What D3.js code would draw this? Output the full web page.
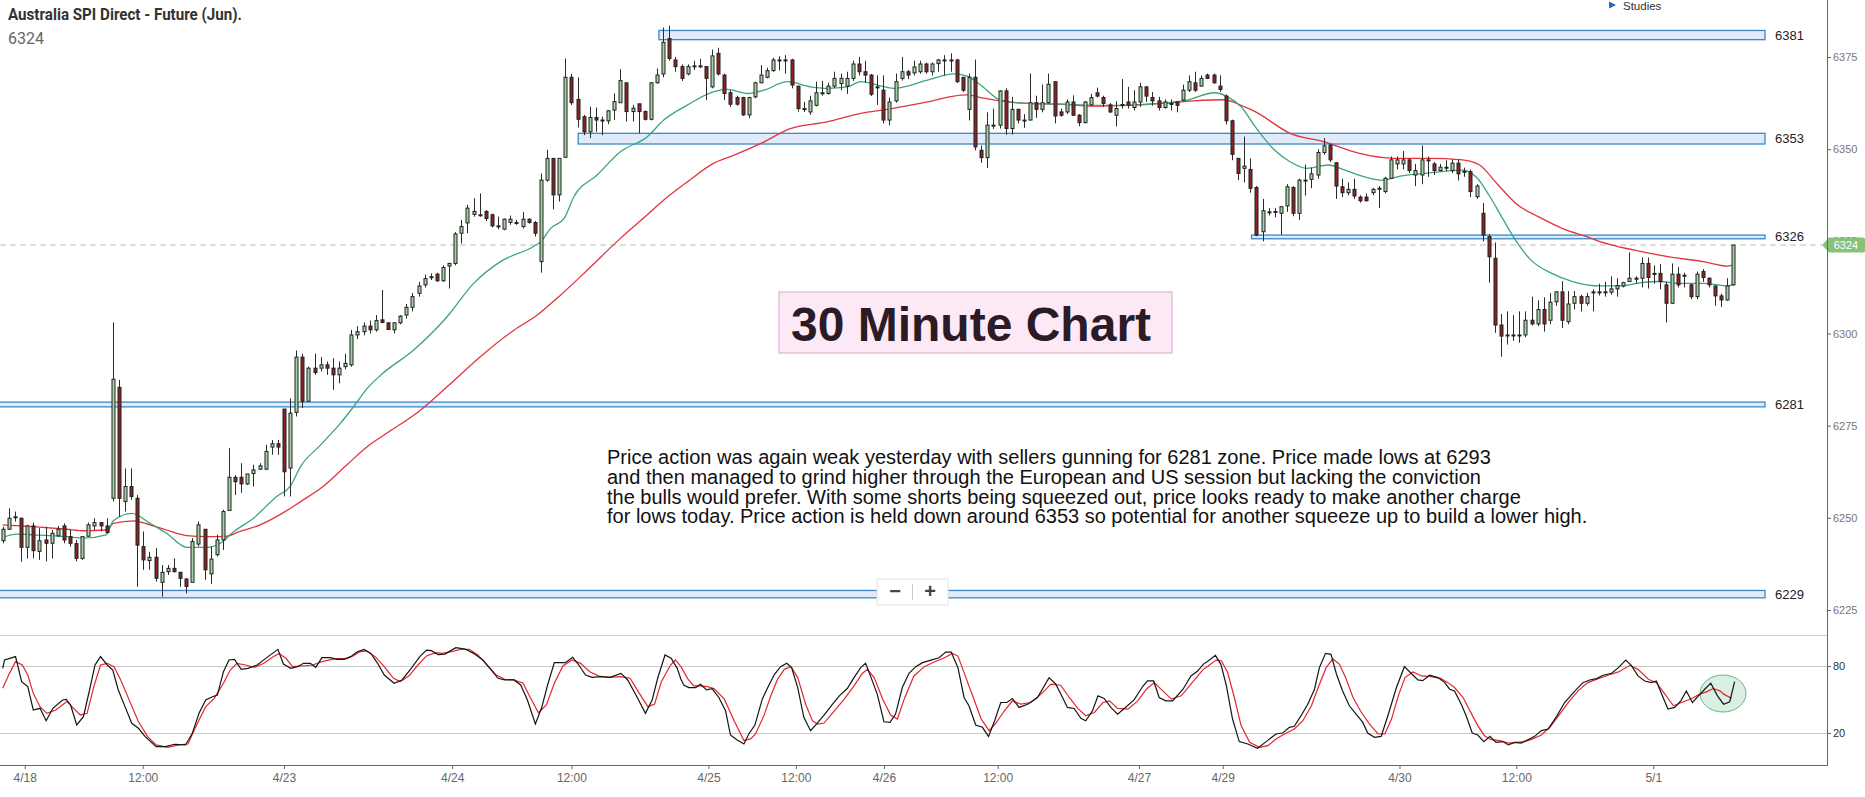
<!DOCTYPE html>
<html>
<head>
<meta charset="utf-8">
<script src="https://cdn.jsdelivr.net/npm/d3@7"></script>
<style>
  body { margin: 0; background: #fff; }
  svg { display: block; }
</style>
</head>
<body>
<script>
// ---- data ----
const title = "Australia SPI Direct - Future (Jun).";
const lastPrice = 6324;

const opens = [6243.8,6246.9,6250.3,6249.9,6242.0,6247.8,6240.9,6244,6243.1,6245.1,6247.8,6244.9,6243,6239,6245,6247.8,6248.7,6247.8,6255.3,6285.4,
6254.4,6258.5,6255.3,6242.2,6238.4,6239.3,6232.5,6235.4,6236.3,6235.2,6233.4,6232.5,6242.9,6246.9,6234.8,6240,6244,6252,6261,6261,
6259.2,6262,6263.2,6263.2,6269.2,6270.1,6279.5,6263.5,6278.6,6293.6,6281.6,6290.6,6290.6,6291.5,6290.6,6288.8,6291,6291.5,6299.6,6300.5,
6302,6301,6303.7,6302.9,6301,6302.9,6305,6307.1,6310.9,6313.2,6315.4,6316.1,6314.3,6318.3,6319,6327.2,6330,6332.3,6332.2,6333.1,
6332.2,6329.2,6328.3,6330.1,6330.1,6329,6331,6330.1,6319.5,6341.6,6347.5,6337.6,6347.8,6369.5,6363.5,6358.8,6354.7,6358.6,6357.9,6357.7,
6360.6,6362.6,6368,6360.2,6362.3,6360.2,6358.1,6368,6370.4,6380,6374.2,6372.4,6370.4,6372.6,6372.6,6372.4,6366.9,6376,6370.1,6365.3,
6364,6364,6359.3,6364.2,6368,6369.5,6371.3,6374.2,6374.2,6374.2,6367.1,6361,6360.1,6361.9,6365.3,6365.1,6367.1,6367.8,6367.1,6369.2,
6373.1,6371,6370.1,6366.9,6366,6357.9,6363.1,6369.2,6371,6370.7,6371,6373.1,6371,6373.2,6374.2,6374.2,6374.2,6369.5,6360.8,6369.5,
6349.7,6347.7,6356.5,6356.5,6365.8,6355.6,6360.8,6357.9,6357.9,6362.6,6360.8,6362.6,6368.3,6360.1,6360.1,6362.8,6359.2,6357.2,6362,6365.3,
6364,6362,6359.2,6362,6362.8,6361.3,6362.8,6366.9,6364,6363.1,6361.3,6362.4,6362.8,6363.3,6366,6368,6367.1,6370.1,6370.1,6367.1,
6364.4,6357.7,6347.5,6344.8,6344.5,6339.6,6327.6,6333,6333,6332.6,6334.6,6339.6,6332.6,6341.6,6341.8,6343,6349.1,6351.1,6346.3,6339.8,
6338.2,6339.1,6337,6337,6338.2,6339.4,6338.5,6342.1,6346,6346,6347.1,6343,6343,6347.1,6346,6344.2,6345.1,6344.2,6346.2,6344,
6343.9,6337.1,6332.6,6326.3,6320.4,6302.3,6299.6,6299.6,6299.6,6299.6,6303.6,6302.6,6306.5,6303.6,6308.6,6311.3,6303.2,6308.2,6310,6308.2,
6311.3,6311.3,6311.3,6311.2,6312.1,6312.9,6314.1,6315,6315,6319,6316.3,6316.3,6313.2,6308.2,6316.1,6315.8,6313.2,6310,6316.8,6315,
6312.9,6310.2,6309.1,6313.2];

const highs = [6247.6,6252.6,6251.7,6250,6248.1,6248.7,6247.2,6247.6,6246.7,6247.8,6248.5,6246.7,6244,6245.1,6248.7,6249.9,6248.7,6249.9,6303,6287.4,
6263.4,6263.4,6256.2,6246.3,6240.8,6241.8,6237.2,6237.2,6239,6235.4,6233.6,6244.5,6249,6246.9,6242.2,6245.4,6252.2,6268.9,6261.6,6264.8,
6261.9,6264.4,6264.8,6269.8,6271.1,6271.1,6279.5,6282.4,6295.4,6294.5,6291,6294.5,6293.6,6292.4,6293.3,6292.4,6294.5,6301,6302,6303,
6303.5,6305,6311.8,6303,6303,6305,6308,6311,6314,6316,6316.3,6316.5,6318.5,6319.2,6327.5,6330.8,6334.9,6336.7,6338,6333.5,
6332.5,6331.7,6331.2,6332,6330.8,6333,6331.2,6330.5,6343.4,6349.8,6347.5,6347.6,6374.6,6370.4,6369.5,6359.3,6361.5,6361.3,6358.8,6360.6,
6365.1,6371.7,6368,6362,6362.3,6360.5,6368.2,6371.9,6383,6383.5,6375,6373,6373,6374,6374.5,6372.5,6377,6377.5,6370.5,6366,
6364.5,6364.2,6364.2,6368.3,6372.8,6372.1,6374.8,6375.2,6375.5,6374.5,6367.2,6362.8,6364.5,6368.3,6368.5,6368,6371,6370.5,6371,6374,
6375,6374,6370.4,6370,6370,6364,6370.5,6375,6371.5,6374,6374,6373.5,6373.5,6374.5,6375.5,6376,6374.5,6369.6,6370.5,6374.3,
6351,6360,6361,6366,6366.5,6364.2,6361,6359.5,6370.5,6364.5,6367.5,6370.5,6368.4,6361,6363.5,6364.6,6359.5,6363,6365,6366.7,
6364.5,6362.5,6363,6369,6366.9,6366,6368,6367,6365.5,6364.2,6363.5,6363.5,6363,6367.5,6370,6371,6370,6370.5,6370.5,6370,
6364.8,6358,6347.6,6353.4,6347.5,6340,6336.5,6334,6334,6334.6,6340.5,6340,6342,6345.8,6345,6350,6353,6351.5,6346.5,6342,
6341,6342,6337.5,6338,6339.5,6340,6342.5,6348,6348,6349.5,6347.5,6346,6351,6348,6346.5,6346,6347,6347.2,6347.2,6345,
6344.5,6340.5,6335.4,6327,6324.7,6305.3,6306,6305,6306,6306,6310,6309,6309.8,6311,6311.5,6314.2,6311.5,6311.5,6310.5,6311,
6312,6313.5,6314,6315.5,6315,6314,6322,6315.5,6320.6,6320.6,6318.5,6318.8,6314,6319,6318,6316.5,6313.5,6316.8,6317.5,6315.2,
6313,6310.8,6315,6324];

const lows = [6243.1,6246.7,6249,6238.1,6239,6239,6238.6,6238.2,6239,6244.9,6243.1,6242.2,6238.2,6238.6,6244.9,6246.7,6246.3,6245.8,6254.4,6250.3,
6251.7,6254.9,6231.3,6235.9,6235.9,6232.7,6228.6,6234.5,6235.2,6231.3,6229.5,6232.5,6242.2,6233.2,6232.1,6239.5,6241.3,6252,6256.2,6256.8,
6258.9,6258.5,6263,6263,6267.1,6267.1,6255.8,6255.8,6277.5,6279.8,6281.4,6288.8,6289.7,6288.8,6284.7,6286.5,6290.3,6291,6298.5,6299.5,
6300,6300.5,6302.8,6300.9,6300,6302.5,6304,6306,6310,6312.5,6314.5,6314,6314,6312.2,6318.5,6324.4,6327.2,6331.7,6331.7,6330.5,
6328.8,6328.3,6328,6329.5,6329.5,6328.5,6329.8,6326.3,6316.5,6341.2,6333.7,6335.8,6347.8,6362,6355.9,6353.8,6353,6354.7,6353.8,6356.8,
6357.9,6362.6,6357.5,6357.5,6354.3,6357.8,6357.8,6367.8,6369.5,6374,6371,6368.5,6370,6371.5,6372,6363.3,6366.5,6370,6363.3,6361.5,
6361.8,6359,6358.4,6363.8,6367.9,6369.2,6371,6371.4,6370.5,6366.5,6360.2,6360.1,6359.3,6361.6,6364.5,6364.8,6366.6,6366,6365,6368.5,
6370,6368,6364.4,6362,6357,6356.5,6362.6,6368.6,6369,6370,6370.5,6370.5,6370,6371,6370,6371,6368,6365.5,6357.8,6349.7,
6346.3,6344.9,6355.5,6355.6,6353.9,6354,6357,6355.8,6357.8,6358.5,6360,6362.4,6357,6358.8,6359.5,6359,6356.2,6357,6361.8,6364,
6361.5,6359.8,6356.2,6361,6361,6360.5,6361.5,6362.8,6361.8,6360.5,6361,6360.5,6360,6363,6365.5,6365.5,6367,6369,6367.8,6365.5,
6356.7,6347,6341.6,6341,6338.2,6326.4,6325,6332,6331.5,6326.8,6333,6331.8,6330.8,6337.4,6339.4,6342,6348.5,6346.5,6336.5,6337,
6337.5,6336.5,6335.5,6335.8,6337.5,6334,6338,6342,6344.5,6344.5,6343.5,6340,6340.5,6342.5,6343,6344,6344,6343.5,6341.5,6342.5,
6337,6336.5,6325,6313.8,6300.2,6293.7,6297,6298,6297.5,6299,6302.2,6302,6300.5,6302.5,6307.5,6301.5,6302.5,6306.5,6306,6307.5,
6306,6310.3,6310,6310.5,6310,6312.5,6314,6313.5,6312.5,6312.2,6313.5,6312,6303,6308,6312.5,6312.5,6309.3,6309.3,6314,6312.5,
6307.5,6307.2,6308.9,6313];

const closes = [6246.9,6249.9,6250.3,6242.0,6247.8,6241.1,6243.8,6243.1,6245.8,6246.9,6244,6243.1,6239,6244.9,6248.1,6248.7,6247.8,6246,6287.6,6255.3,
6258.5,6255.8,6242.6,6238.6,6239.3,6233.6,6235.2,6236.3,6235.4,6233.6,6231.4,6243.6,6248.1,6235.9,6238.8,6244,6251.7,6261,6259.8,6259.2,
6261.9,6263,6264.1,6268,6270.1,6269.2,6262.5,6278.4,6293.6,6281.6,6290.6,6289.4,6291.5,6290.6,6288.8,6290.6,6291.9,6299.6,6300.5,6302,
6301,6303.5,6303,6301.1,6302.9,6304.7,6307.1,6310,6312.9,6314.9,6315.4,6314.3,6317.9,6319,6327,6329,6334,6333.1,6332.2,6331.2,
6329.2,6329.2,6331,6331,6330.1,6331,6330.1,6327.2,6341.6,6347.5,6337.6,6347.5,6369.5,6362.6,6358.1,6354.7,6358.6,6357.9,6357.9,6360.4,
6362.9,6368.6,6360.2,6361.1,6360.2,6358.1,6368,6370.1,6379,6374.6,6372.4,6369.2,6372.4,6372.6,6372.6,6369.2,6375.3,6370.4,6365.1,6362.2,
6362.2,6359.3,6364,6368,6370.1,6371.3,6374.2,6374.2,6374,6367.4,6361,6361,6363.1,6365.3,6365.3,6367.1,6369.2,6369.2,6369.2,6373.1,
6371,6370.1,6364.9,6366.9,6357.9,6362.8,6368.3,6371,6370.1,6372.3,6373.1,6371,6373.1,6374.2,6374.2,6374.2,6368.3,6366,6369.5,6350.6,
6347.7,6356.5,6356.5,6365.8,6355.6,6360.8,6357.9,6357.9,6362.6,6360.8,6362.6,6367.6,6359,6359.2,6362.8,6359.2,6357.2,6362.8,6364,6364.4,
6362.4,6360.1,6361,6362.1,6361.9,6362.8,6366.9,6364.4,6363.1,6361.3,6362.8,6362.4,6361.9,6366,6368.3,6366,6369.2,6369.2,6368,6366.2,
6357.7,6348.6,6343.4,6345.4,6339.4,6326.7,6333.3,6333,6333.1,6334.4,6339.8,6332.6,6341.6,6341.6,6343.3,6349.1,6350.9,6347.1,6340,6338.2,
6339.1,6337.3,6336,6336,6339.1,6339.4,6342.1,6347.1,6347.1,6347.1,6344.2,6344.2,6347.1,6347.1,6344.2,6345.1,6345.1,6346.2,6343.3,6344,
6338.5,6340,6326.7,6320.8,6302.3,6299.3,6299.6,6299.6,6299.6,6303.6,6302.6,6306.5,6302.6,6308.5,6311.3,6303.6,6308,6310,6308.2,6310,
6311.3,6311.3,6311.3,6312.1,6313,6313.8,6315,6315,6319,6315.2,6316.3,6314.1,6308.2,6316.1,6313.2,6315.8,6310,6316.1,6315.2,6313.2,
6310.2,6309.1,6312.9,6324];

// moving averages, [bar, price]
const maFast = [[0,6244.7],[2.3,6245.6],[5,6245.4],[10.5,6244.9],[13.2,6244.5],[16.9,6245.4],[18.1,6249.2],[21.1,6251.2],[24.1,6248.5],[26.8,6245.8],
[30.1,6242],[33.4,6242],[35.6,6243.1],[37.8,6246.3],[41,6249.9],[44.8,6255.8],[47,6258.5],[48.7,6263.9],[52,6269.8],[55.2,6275.6],[57.4,6280.2],
[59.6,6285.1],[61.8,6288.7],[67.2,6295.5],[72.7,6304.6],[77,6313.6],[81.4,6319.5],[86.8,6323.6],[88,6324.9],[89.6,6328.5],[91.8,6331.2],
[93.4,6337.1],[97.2,6343],[101,6349.3],[105.4,6353.4],[108.1,6357.9],[112,6362],[116.3,6365.6],[118.5,6366.2],[121.8,6365.1],[124.5,6366],
[128.3,6368.3],[132.1,6366.9],[134.8,6366.5],[138.1,6366.9],[140.3,6368.3],[143,6367.4],[145.7,6366.5],[151.2,6368.7],[155.5,6370.4],
[157.7,6369.8],[159.9,6367.4],[163.2,6363.3],[167.5,6362.4],[173,6362.2],[178.5,6361.9],[183.9,6361.9],[189.4,6362.4],[193.7,6363.3],
[198.1,6365.3],[200.3,6364.2],[202.5,6361.5],[204.8,6356.1],[207.7,6350.2],[210.5,6346.6],[213.3,6344.8],[216.7,6345.7],[219.5,6344.3],
[222.9,6342.4],[225.7,6341.6],[228.5,6342.7],[233,6343.5],[238.7,6344.3],[240.9,6342.5],[243.2,6337.1],[245.4,6330.8],[247.7,6324.5],
[249.9,6319.9],[253.3,6316.3],[256.7,6314.1],[261.2,6312.9],[264.6,6312.9],[268,6313.8],[270.8,6314.1],[274.2,6313.6],[278.1,6313.6],
[282.1,6312.9],[283.2,6313.6]];

const maSlow = [[0,6248.1],[5,6247.6],[10.5,6246.9],[13.2,6246.5],[16.9,6246.7],[18.1,6248.5],[21.4,6249.2],[24.1,6248.1],[26.8,6246.7],
[30.1,6245.2],[33.4,6244.9],[36.1,6244.9],[38.8,6246.3],[42.1,6248.1],[45.9,6251.4],[48.7,6254.4],[52,6258],[56.3,6264.4],[59.6,6269.3],
[62.3,6272.4],[68.3,6279.2],[72.7,6285.6],[78.1,6293.7],[83.6,6300.9],[87.4,6305],[91.2,6310.4],[95.6,6317.2],[101,6325.8],[105.4,6332.2],
[108.1,6336.2],[112,6341.2],[116.3,6346.2],[119.6,6348.4],[123.9,6351.5],[128.8,6355.6],[134.8,6357.4],[140.3,6359.7],[144.6,6360.8],
[151.2,6362.8],[155.5,6364.4],[157.7,6364.7],[159.9,6364],[163.2,6363.1],[167.5,6362.4],[173,6362.2],[178.5,6361.7],[183.9,6361.9],
[189.4,6362.4],[194.8,6363.1],[199.7,6363.4],[202.5,6361.9],[204.8,6360.2],[210.5,6354.3],[216.1,6352],[221.7,6348.9],[227.4,6347.5],
[233,6347.5],[238.7,6347.1],[241.5,6345.7],[244.3,6340.7],[247.7,6334.9],[251.1,6331.7],[255.6,6328.1],[259,6326.3],[261.2,6324.9],
[266.8,6322.6],[272.5,6320.8],[278.1,6319.5],[282.1,6318.3],[283.2,6318.6]];

// stochastic %K and %D, [bar, value]
const stochK = [[0,77.9],[0.3,85.4],[2.1,88.4],[3.1,66],[4.1,61.5],[5,40.6],[6.1,42.1],[7.1,31],[8.2,42.1],[9.8,49.6],[10.4,50.1],[11.1,45.1],
[12.1,27.2],[13.2,34.6],[14.2,58.5],[15.1,80.9],[16,88.4],[17.1,80.9],[18,76.4],[18.9,58.5],[20,43.6],[21.1,28.7],[22.2,24.2],[23.3,16.7],
[25.1,7.8],[26.6,7.8],[28.1,9.9],[29.9,9.3],[31,19.7],[32.1,37.6],[33.2,49.6],[34.3,52.5],[35.1,54],[36.1,74.9],[37,85.4],[37.9,86],[39,77],
[40.1,77.9],[41.6,80.9],[43.4,88.4],[45,94.9],[45.9,81.8],[47.1,77.9],[48.2,79.4],[49.2,82.4],[50.3,82.4],[51.2,78.8],[52.2,87.5],[53.6,87.5],
[54.7,86],[55.8,86],[56.9,88.4],[58,92.8],[59.1,94.9],[60.2,91.3],[61.3,82.4],[62.4,71.9],[64,64.5],[65.3,67.5],[66.8,77.9],[68.2,88.4],
[69.3,94.3],[70.1,93.7],[71.2,90.1],[72.3,90.7],[74.1,96.4],[75.6,95.2],[77,91.3],[78.5,85.4],[79.9,76.4],[81,69],[82.1,67.5],[83.6,67.5],
[84.7,63],[85.8,49.6],[87.1,28.1],[88.1,42.1],[89.1,63],[90.2,83],[92,83],[93.2,87.8],[94.2,80.9],[95.3,71.9],[96.4,69.9],[97.8,70.4],
[99.3,69.9],[101.1,73.4],[102.2,67.5],[103.7,52.5],[105.1,37.6],[106.2,49.6],[107.1,69],[108.3,89.9],[109.3,86.9],[110.3,77.9],[110.9,68.1],
[111.4,62.8],[112.2,60.7],[113.3,60.7],[114.1,63.7],[115.1,58.6],[116,59.8],[117.1,51.8],[118.2,39.9],[119,18.2],[120.1,13.8],[121.2,10.2],
[122,19.1],[123,27.1],[124.2,50.3],[125.1,60.7],[126.2,72.6],[127.2,79.4],[128.2,82.4],[129,78.5],[130,60.7],[131,34],[132.1,22.1],
[133.2,28.9],[134.3,36],[135.7,45.8],[136.8,53.3],[138.1,59.8],[139.2,69.6],[140.3,78.5],[141.1,82.4],[142,69.6],[143,54.8],[144.1,30.1],
[145.1,29.5],[146,36.9],[147.1,60.7],[148.2,73.5],[149.3,79.4],[150.4,83],[151.8,85.3],[153.1,87.4],[154.2,92.5],[155.1,92.5],[156.2,78.5],
[157.2,51.8],[158,44.4],[159.1,27.1],[160.2,25.1],[161.2,17],[162.2,31],[163.2,47.3],[164.2,47.3],[165.1,50.9],[166.2,42.9],[167.6,45.8],
[169.2,51.8],[171.1,69.6],[172.2,63.7],[173.3,51.8],[174.1,42.9],[175.2,42],[176.3,33.1],[177.1,31],[178.2,39.9],[179.1,53.3],[180.1,50.9],
[181.2,42.9],[182.3,36.9],[183.4,42],[185,49.7],[186.4,61.6],[187.2,66.6],[188.2,66.6],[189.1,51.8],[190.2,48.8],[191.3,48.8],[193,59.2],
[194.3,71.1],[195.4,75.5],[196.3,81.5],[197.1,84.5],[198.3,89.5],[199.2,81.5],[200.1,62.2],[201.1,32.5],[202.2,12.3],[203.6,10.2],[205.2,6.3],
[206.6,12.3],[208.2,19.1],[209.3,20],[210.4,25.1],[211.2,26],[212.3,35.5],[213.4,45.8],[214.5,59.2],[215.3,78.5],[216.3,91.3],[217.2,90.4],
[218.1,72.6],[219.1,57.7],[220.2,44.4],[221.3,36.9],[222.4,29.5],[223.2,20],[224.3,16.1],[225.4,17],[226.5,35.5],[227.9,60.7],[229.2,79.4],
[230.3,73.5],[231.4,67.5],[232.2,66.9],[233.3,71.7],[234.7,69.6],[235.8,65.1],[236.6,59.2],[237.4,57.7],[238.5,45.8],[239.3,35.5],[240.3,20],
[241.2,18.2],[242.2,12.3],[243.2,17],[244.2,11.6],[245.3,12.3],[246.2,9.3],[247.2,11.6],[248.3,11],[249.4,14],[250.5,17],[251.6,22.1],
[252.7,23.6],[254.1,34.9],[255.4,47.3],[257.1,57.7],[258.4,65.1],[259.5,67.5],[260.6,68.7],[261.7,71.7],[263.1,73.5],[264.2,78.5],[265.4,85.3],
[266.3,80.6],[267.4,71.1],[268.5,66.6],[269.6,65.1],[270.4,66.6],[271.5,51.8],[272.3,41.4],[273.4,42.9],[274.4,48.8],[275.3,57.7],[276.3,47.3],
[277.3,53.3],[278.3,59.2],[279.3,64.6],[280.4,53.3],[281.4,45.8],[282.4,48],[283.2,66]];

const stochD = [[0,60],[1.1,73.4],[2.1,83.9],[3.2,80.9],[4.1,71.9],[5,55.5],[6.1,43.6],[7.2,37.6],[8.7,40.6],[10.5,48.1],[11.6,42.1],[12.7,36.1],
[13.8,37.6],[14.9,61.5],[16,80.9],[17.1,82.4],[18.2,79.4],[19.3,67.5],[20.8,48.1],[22.2,30.1],[23.7,16.7],[25.1,9.3],[27,7.2],[28.8,9.3],
[30.3,10.1],[31.7,27.2],[33.2,43.6],[34.6,51],[36.1,64.5],[37.2,76.4],[38.3,82.4],[39.7,80.9],[41.2,78.8],[42.7,82.4],[44.1,87.8],[45.2,91.3],
[46.3,86.9],[47.4,79.4],[48.9,80],[50.7,80.9],[52.2,83.9],[54.4,86.6],[56.2,86.6],[57.3,89],[58.4,92.8],[59.5,93.4],[60.9,88.4],[62.4,79.4],
[63.9,69],[65,66],[66.4,71],[67.9,80.9],[69.3,89],[70.8,91.9],[71.9,91.3],[73.4,92.8],[74.8,94.9],[76.3,94.9],[77.7,89.9],[79.2,80.9],
[80.7,71.9],[82.1,68.1],[83.6,67.5],[85.1,64.5],[86.2,52.5],[87.6,38.2],[88.9,45.1],[90.2,64.5],[91.6,80],[93.1,85.4],[94.5,82.4],[96,74.9],
[97.5,71],[99.3,69.9],[101.1,70.4],[102.6,69],[104.1,55.5],[105.5,43.6],[106.6,46],[107.7,66],[109.2,80.9],[110,85.4],[110.9,79.4],[112,68.7],
[113,62.2],[114.1,62.2],[115.2,61.6],[116.3,59.8],[118,50.3],[119.6,31],[121.2,13.2],[122.3,14.7],[123.1,19.1],[124.5,36],[125.6,53.3],
[126.7,68.1],[127.8,77],[128.9,79.4],[130,69.6],[131.3,45.8],[132.4,31],[133.2,28],[134.3,28.9],[136,39.9],[137.6,50.3],[139.2,62.2],
[140.6,73.5],[141.4,77],[142.5,69.6],[143.9,50.3],[145.2,36],[146.3,32.5],[147.4,50.3],[149,71.1],[150.7,79.4],[152.3,83.6],[154,87.4],
[155.3,91.3],[156.2,88.9],[157.2,74.1],[158.6,53.3],[160,32.5],[161.3,22.1],[162.4,28.9],[163.8,39.9],[165.1,48.8],[166.5,45.8],[168.1,47.3],
[169.8,54.8],[171.4,63.7],[173,62.8],[174.4,51.8],[175.8,42],[177.1,35.5],[178.5,38.4],[179.9,47.3],[181,48.8],[182.3,42],[184,41.4],
[185.6,48.8],[187,59.2],[188.3,65.1],[189.7,57.7],[191.1,50.3],[192.7,53.3],[194.3,63.7],[196.3,77],[197.1,80],[198.4,85.3],[199.3,84.5],
[200.3,74.1],[201.4,51.8],[202.5,26.6],[203.9,11.6],[205.5,7.2],[206.9,8.7],[208.2,14.7],[209.6,19.1],[211.2,23.6],[212.6,31],[214,44.4],
[215.1,60.7],[216.4,78.5],[217.5,86.3],[218.6,81.5],[219.7,68.1],[220.8,51.8],[222.1,39],[223.5,28],[224.9,19.1],[226,19.1],[227.1,32.5],
[228.2,53.3],[229.3,69.6],[230.6,74.7],[232,71.1],[233.6,70.5],[235.2,68.7],[236.3,65.1],[237.4,60.7],[238.8,51.8],[240.2,36.9],[241.2,26.6],
[242.3,17.6],[243.4,14],[244.8,13.2],[246.2,11],[247.5,11.6],[248.9,12.3],[250.2,14.7],[251.6,18.2],[253,25.1],[254.6,36.9],[256.2,48.8],
[257.6,57.7],[259.2,65.1],[260.9,68.7],[262.5,71.7],[264.2,74.7],[266.1,80.6],[267.4,77],[269.1,68.1],[270.4,65.1],[271.8,54.8],[273.2,44.4],
[274.5,47.3],[276.2,50.9],[277.5,54.8],[278.6,56.8],[279.7,59.8],[280.8,57.7],[281.4,54.8],[282.7,51]];

// support / resistance zones: label, upper, lower, first bar
const zoneLabels = [6381, 6353, 6326, 6281, 6229];
const zoneTops = [6382.2, 6354.3, 6326.7, 6281.4, 6230.3];
const zoneBottoms = [6379.7, 6351.4, 6325.7, 6280.1, 6228.3];
const zoneStart = [107.3, 94.1, 204.2, -1, -1];

const priceTicks = [6225, 6250, 6275, 6300, 6325, 6350, 6375];
const stochTicks = [20, 80];
const timeTickBars = [3.6, 22.9, 46, 73.5, 93, 115.4, 129.7, 144.1, 162.7, 185.8, 199.5, 228.4, 247.5, 269.9];
const timeTickLabels = ["4/18", "12:00", "4/23", "4/24", "12:00", "4/25", "12:00", "4/26", "12:00", "4/27", "4/29", "4/30", "12:00", "5/1"];

const noteLines = [
  "Price action was again weak yesterday with sellers gunning for 6281 zone. Price made lows at 6293",
  "and then managed to grind higher through the European and US session but lacking the conviction",
  "the bulls would prefer. With some shorts being squeezed out, price looks ready to make another charge",
  "for lows today. Price action is held down around 6353 so potential for another squeeze up to build a lower high."
];
const boxTitle = "30 Minute Chart";

// ---- layout ----
const width = 1865;
const height = 797;
const axisX = 1827;
const zoneEnd = 1765;
const bottomY = 765;

const svg = d3.select("body")
  .append("svg")
    .attr("width", width)
    .attr("height", height)
    .style("font-family", "'Liberation Sans', Arial, sans-serif");

const xScale = d3.scaleLinear()
  .domain([0, closes.length - 1])
  .range([2.7, 1733.4]);

const yScale = d3.scaleLinear()
  .domain([6225, 6375])
  .range([610, 57]);

const sScale = d3.scaleLinear()
  .domain([20, 80])
  .range([733, 666]);

// title
svg.append("text")
  .attr("x", 8).attr("y", 20)
  .attr("font-family", "Roboto, sans-serif")
  .attr("font-weight", "bold")
  .attr("font-size", 16)
  .attr("fill", "#333")
  .attr("textLength", 234)
  .attr("lengthAdjust", "spacingAndGlyphs")
  .text(title);

svg.append("text")
  .attr("x", 8).attr("y", 44)
  .attr("font-family", "Roboto, sans-serif")
  .attr("font-size", 16)
  .attr("fill", "#666")
  .text(lastPrice);

// studies link
svg.append("path")
  .attr("d", "M1609,1.5 L1616,5 L1609,8.5 Z")
  .attr("fill", "#2a68c0");
svg.append("text")
  .attr("x", 1623).attr("y", 9.5)
  .attr("font-size", 11.5)
  .attr("fill", "#333")
  .text("Studies");

// zones
const zones = zoneLabels.map(function(d, i) {
  return { label: d, top: zoneTops[i], bottom: zoneBottoms[i], start: zoneStart[i] };
});

svg.selectAll("rect.zone")
  .data(zones)
  .enter()
  .append("rect")
    .attr("class", "zone")
    .attr("x", function(d) { return d.start < 0 ? -2 : xScale(d.start); })
    .attr("y", function(d) { return yScale(d.top); })
    .attr("width", function(d) { return zoneEnd - (d.start < 0 ? -2 : xScale(d.start)); })
    .attr("height", function(d) { return yScale(d.bottom) - yScale(d.top); })
    .attr("fill", "#dfeafa")
    .attr("stroke", "#3f87c4")
    .attr("stroke-width", 1.3);

svg.selectAll("text.zone")
  .data(zones)
  .enter()
  .append("text")
    .attr("class", "zone")
    .attr("x", zoneEnd + 10)
    .attr("y", function(d) { return yScale((d.top + d.bottom) / 2) + 4.5; })
    .attr("font-size", 13)
    .attr("fill", "#222")
    .text(function(d) { return d.label; });

// last price dashed line
svg.append("line")
  .attr("x1", 0).attr("x2", axisX - 5)
  .attr("y1", yScale(lastPrice)).attr("y2", yScale(lastPrice))
  .attr("stroke", "#b9c3ad")
  .attr("stroke-width", 1)
  .attr("stroke-dasharray", "6,4");

// moving averages
const maLine = d3.line()
  .x(function(d) { return xScale(d[0]); })
  .y(function(d) { return yScale(d[1]); })
  .curve(d3.curveMonotoneX);

svg.append("path")
  .attr("d", maLine(maSlow))
  .attr("fill", "none")
  .attr("stroke", "#e3343e")
  .attr("stroke-width", 1.3);

svg.append("path")
  .attr("d", maLine(maFast))
  .attr("fill", "none")
  .attr("stroke", "#3aa57c")
  .attr("stroke-width", 1.3);

// candles
const bars = closes.map(function(c, i) {
  return { i: i, o: opens[i], h: highs[i], l: lows[i], c: c };
});

const candle = svg.selectAll("g.candle")
  .data(bars)
  .enter()
  .append("g")
    .attr("class", "candle");

candle.append("line")
  .attr("x1", function(d) { return Math.round(xScale(d.i)) + 0.5; })
  .attr("x2", function(d) { return Math.round(xScale(d.i)) + 0.5; })
  .attr("y1", function(d) { return yScale(d.h); })
  .attr("y2", function(d) { return yScale(d.l); })
  .attr("stroke", "#2b2b2b")
  .attr("stroke-width", 1);

candle.append("rect")
  .attr("x", function(d) { return Math.round(xScale(d.i)) - 1; })
  .attr("y", function(d) { return yScale(Math.max(d.o, d.c)); })
  .attr("width", 3)
  .attr("height", function(d) { return Math.max(1, Math.abs(yScale(d.o) - yScale(d.c))); })
  .attr("fill", function(d) { return d.c >= d.o ? "#a3d3a0" : "#8a2424"; })
  .attr("stroke", "#222")
  .attr("stroke-width", 1);

// pink title box
svg.append("rect")
  .attr("x", 779).attr("y", 292)
  .attr("width", 393).attr("height", 61)
  .attr("fill", "#fde9f5")
  .attr("stroke", "#d9b6cd")
  .attr("stroke-width", 1.2);

svg.append("text")
  .attr("x", 791).attr("y", 341)
  .attr("font-weight", "bold")
  .attr("font-size", 48)
  .attr("fill", "#2a1b26")
  .text(boxTitle);

// comment text
svg.selectAll("text.note")
  .data(noteLines)
  .enter()
  .append("text")
    .attr("class", "note")
    .attr("x", 607)
    .attr("y", function(d, i) { return 464 + i * 19.8; })
    .attr("font-size", 20)
    .attr("fill", "#111")
    .text(function(d) { return d; });

// zoom control
const ctrl = svg.append("g").attr("transform", "translate(877,579)");
ctrl.append("rect")
  .attr("width", 71).attr("height", 26)
  .attr("fill", "#fff")
  .attr("stroke", "#e2e2e2");
ctrl.append("line")
  .attr("x1", 35.5).attr("x2", 35.5).attr("y1", 5).attr("y2", 21)
  .attr("stroke", "#ccc");
ctrl.append("text")
  .attr("x", 18).attr("y", 19)
  .attr("text-anchor", "middle")
  .attr("font-size", 20).attr("font-weight", "bold")
  .attr("fill", "#444")
  .text("\u2212");
ctrl.append("text")
  .attr("x", 53).attr("y", 19)
  .attr("text-anchor", "middle")
  .attr("font-size", 20).attr("font-weight", "bold")
  .attr("fill", "#444")
  .text("+");

// price axis
const priceAxis = d3.axisRight(yScale)
  .tickValues(priceTicks)
  .tickFormat(d3.format("d"))
  .tickSize(4)
  .tickPadding(2);

const gPrice = svg.append("g")
  .attr("transform", "translate(" + axisX + ",0)")
  .call(priceAxis);
gPrice.select(".domain").remove();
gPrice.selectAll("line").attr("stroke", "#666");
gPrice.selectAll("text")
  .attr("font-family", "'Liberation Sans', Arial, sans-serif")
  .attr("font-size", 11)
  .attr("fill", "#777");

// last price tag
const tagY = yScale(lastPrice);
svg.append("path")
  .attr("d", "M1822," + tagY + " L1829," + (tagY - 7.5) + " L1863," + (tagY - 7.5) +
             " Q1865," + (tagY - 7.5) + " 1865," + (tagY - 5.5) + " L1865," + (tagY + 5.5) +
             " Q1865," + (tagY + 7.5) + " 1863," + (tagY + 7.5) + " L1829," + (tagY + 7.5) + " Z")
  .attr("fill", "#86c27a");
svg.append("text")
  .attr("x", 1846).attr("y", tagY + 4)
  .attr("text-anchor", "middle")
  .attr("font-size", 11)
  .attr("fill", "#fff")
  .text(lastPrice);

// lower panel frame and grid
svg.append("line")
  .attr("x1", 0).attr("x2", axisX)
  .attr("y1", 635.5).attr("y2", 635.5)
  .attr("stroke", "#cfcfcf");

svg.selectAll("line.sgrid")
  .data(stochTicks)
  .enter()
  .append("line")
    .attr("class", "sgrid")
    .attr("x1", 0).attr("x2", axisX)
    .attr("y1", function(d) { return Math.round(sScale(d)) + 0.5; })
    .attr("y2", function(d) { return Math.round(sScale(d)) + 0.5; })
    .attr("stroke", "#c8c8c8");

const stochAxis = d3.axisRight(sScale)
  .tickValues(stochTicks)
  .tickSize(4)
  .tickPadding(2);
const gStoch = svg.append("g")
  .attr("transform", "translate(" + axisX + ",0)")
  .call(stochAxis);
gStoch.select(".domain").remove();
gStoch.selectAll("line").attr("stroke", "#666");
gStoch.selectAll("text")
  .attr("font-family", "'Liberation Sans', Arial, sans-serif")
  .attr("font-size", 11)
  .attr("fill", "#333");

// stochastic lines
const sLine = d3.line()
  .x(function(d) { return xScale(d[0]); })
  .y(function(d) { return sScale(d[1]); });

// highlight ellipse
svg.append("ellipse")
  .attr("cx", 1723).attr("cy", 693.5)
  .attr("rx", 23).attr("ry", 18.5)
  .attr("fill", "rgba(120,200,150,0.28)")
  .attr("stroke", "#62b78a")
  .attr("stroke-width", 1);

svg.append("path")
  .attr("d", sLine(stochD))
  .attr("fill", "none")
  .attr("stroke", "#e3262e")
  .attr("stroke-width", 1.2);

svg.append("path")
  .attr("d", sLine(stochK))
  .attr("fill", "none")
  .attr("stroke", "#151515")
  .attr("stroke-width", 1.2);

// right axis line
svg.append("line")
  .attr("x1", axisX + 0.5).attr("x2", axisX + 0.5)
  .attr("y1", 0).attr("y2", bottomY)
  .attr("stroke", "#666");

// time axis
const timeAxis = d3.axisBottom(xScale)
  .tickValues(timeTickBars)
  .tickFormat(function(d, i) { return timeTickLabels[i]; })
  .tickSize(4)
  .tickPadding(4);
const gTime = svg.append("g")
  .attr("transform", "translate(0," + bottomY + ")")
  .call(timeAxis);
gTime.select(".domain").remove();
gTime.selectAll("line").attr("stroke", "#666");
gTime.selectAll("text")
  .attr("font-family", "'Liberation Sans', Arial, sans-serif")
  .attr("font-size", 12)
  .attr("fill", "#666");

svg.append("line")
  .attr("x1", 0).attr("x2", axisX + 1)
  .attr("y1", bottomY + 0.5).attr("y2", bottomY + 0.5)
  .attr("stroke", "#666");
</script>
</body>
</html>
